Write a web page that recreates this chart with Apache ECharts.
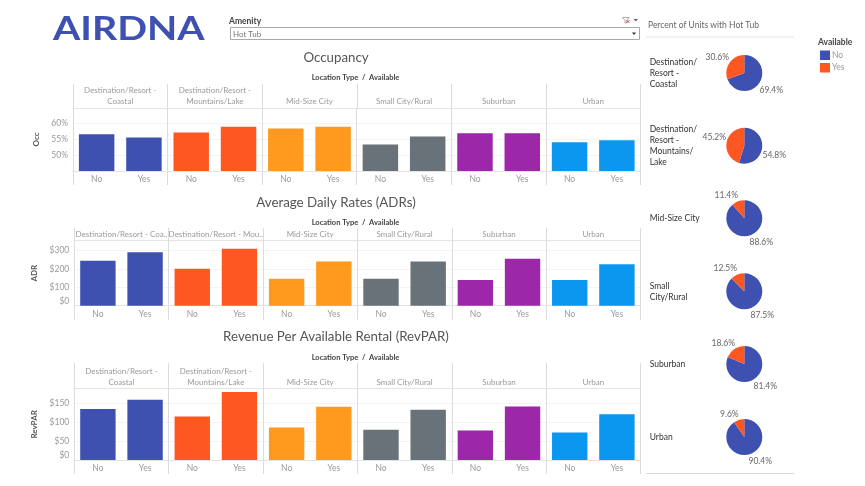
<!DOCTYPE html>
<html>
<head>
<meta charset="utf-8">
<title>AirDNA Hot Tub</title>
<script src="https://cdn.jsdelivr.net/npm/echarts@6/dist/echarts.min.js"></script>
<style>
html, body { margin: 0; padding: 0; background: #fff; }
#main { width: 865px; height: 486px; }
</style>
</head>
<body>
<div id="main"></div>
<script>
var availability = ['No', 'Yes'];
var headersTwoLine = ['Destination/Resort -\nCoastal', 'Destination/Resort -\nMountains/Lake', 'Mid-Size City', 'Small City/Rural', 'Suburban', 'Urban'];
var headersOneLine = ['Destination/Resort - Coa..', 'Destination/Resort - Mou..', 'Mid-Size City', 'Small City/Rural', 'Suburban', 'Urban'];
var pieNames = ['Destination/\nResort -\nCoastal', 'Destination/\nResort -\nMountains/\nLake', 'Mid-Size City', 'Small\nCity/Rural', 'Suburban', 'Urban'];

var occValues = [56.5, 55.5, 57, 58.8, 58.3, 58.8, 53.3, 55.8, 56.8, 56.8, 54, 54.6];
var adrValues = [244, 289, 200, 309, 146, 240, 146, 240, 139, 254, 139, 224];
var revparValues = [135, 160, 115, 180, 86, 141, 80, 133, 78, 142, 73, 121];

var pieNo = [69.4, 54.8, 88.6, 87.5, 81.4, 90.4];
var pieYes = [30.6, 45.2, 11.4, 12.5, 18.6, 9.6];

var panelColors = ['#3f51b0', '#ff5722', '#ff9a1f', '#687278', '#9c27a8', '#0b97ef'];
var pieColors = ['#3f51b0', '#ff5722'];

var gray = '#9a9a9a';
var sep = '#dcdcdc';
var font = 'Lato, "Noto Sans", sans-serif';

var myChart = echarts.init(document.getElementById('main'));

// one row of bars: 12 categories, separators come from the axes ticks
var rows = [
	{name: 'Occ', values: occValues, headers: headersTwoLine, left: 73, top: 108, base: 171, head: 24, min: 45, max: 64.7, interval: 5, fmt: '{value}%'},
	{name: 'ADR', values: adrValues, headers: headersOneLine, left: 74.3, top: 240.7, base: 305.7, head: 13, min: 0, max: 352, interval: 100, fmt: '${value}'},
	{name: 'RevPAR', values: revparValues, headers: headersTwoLine, left: 74.3, top: 388.7, base: 460, head: 25.5, min: 0, max: 189, interval: 50, fmt: '${value}'}
];

var grid = [], xAxis = [], yAxis = [], series = [];
var everyOther = function (i) { return i % 2 === 0; };

rows.forEach(function (r, n) {
	var cats = [];
	r.headers.forEach(function () { cats = cats.concat(availability); });
	grid.push({left: r.left, right: 865 - 640.5, top: r.top, height: r.base - r.top});
	xAxis.push({
		gridIndex: n, type: 'category', data: cats,
		axisLine: {lineStyle: {color: '#e4e4e4'}},
		axisTick: {show: true, interval: everyOther, length: 14, lineStyle: {color: sep}},
		axisLabel: {interval: 0, margin: 4, color: gray, fontFamily: font, fontSize: 8.5, hideOverlap: false},
		splitLine: {show: true, interval: everyOther, lineStyle: {color: sep}}
	});
	xAxis.push({
		gridIndex: n, type: 'category', position: 'top', data: r.headers,
		axisLine: {show: true, lineStyle: {color: '#e4e4e4'}},
		axisTick: {show: true, length: r.head, lineStyle: {color: sep}},
		axisLabel: {interval: 0, margin: 1, color: gray, fontFamily: font, fontSize: 8, lineHeight: 11, hideOverlap: false}
	});
	yAxis.push({
		gridIndex: n, type: 'value', min: r.min, max: r.max, interval: r.interval,
		name: r.name, nameLocation: 'middle', nameGap: 28,
		nameTextStyle: {color: '#555', fontFamily: font, fontSize: 8, fontWeight: 700},
		axisLine: {show: false}, axisTick: {show: false},
		axisLabel: {
			formatter: r.fmt, margin: 5, color: gray, fontFamily: font, fontSize: 8.5,
			showMaxLabel: false, showMinLabel: n > 0, verticalAlignMinLabel: 'bottom'
		},
		splitLine: {show: true, showMaxLine: false, showMinLine: false, lineStyle: {color: '#f4f4f4'}}
	});
	series.push({
		type: 'bar', xAxisIndex: n * 2, yAxisIndex: n, barWidth: '75%', silent: true,
		data: r.values.map(function (v, i) {
			return {value: v, itemStyle: {color: panelColors[Math.floor(i / 2)]}};
		})
	});
});

// label spots around each pie, relative to its centre
var pieY = [73, 145.7, 218.3, 291.3, 364, 437];
var pieX = 744.3;
var yesLabelAt = [[-27, -16], [-30, -8], [-18, -23], [-19, -23], [-21, -21], [-15, -23]];
var noLabelAt = [[27, 17], [30, 9.3], [17, 24.4], [18, 24], [21, 22], [16, 24]];

pieNo.forEach(function (v, i) {
	series.push({
		type: 'pie', center: [pieX, pieY[i]], radius: [0, 18], startAngle: 90, clockwise: true, silent: true,
		color: pieColors,
		label: {show: true, position: 'outside', formatter: function (p) { return p.value.toFixed(1) + '%'; }, color: '#666', fontFamily: font, fontSize: 8.5},
		labelLine: {show: false},
		labelLayout: function (p) {
			var at = p.dataIndex === 0 ? noLabelAt[i] : yesLabelAt[i];
			return {x: pieX + at[0], y: pieY[i] + at[1], align: 'center', verticalAlign: 'middle'};
		},
		data: [{name: availability[0], value: v}, {name: availability[1], value: pieYes[i]}]
	});
});

function text(x, y, s, size, color, weight, align) {
	return {
		type: 'text', z: 10, silent: true,
		style: {x: x, y: y, text: s, fill: color, font: (weight || 'normal') + ' ' + size + 'px ' + font, align: align || 'left', verticalAlign: 'middle', lineHeight: 11}
	};
}
function rule(x1, y1, x2, y2, color) {
	return {type: 'line', silent: true, shape: {x1: x1, y1: y1, x2: x2, y2: y2}, style: {stroke: color, lineWidth: 1}};
}

var graphics = [
	{type: 'text', silent: true, x: 53, y: 13, scaleX: 1.19, style: {x: 0, y: 0, text: 'AIRDNA', fill: '#3f51b0', font: '700 33px ' + font}},
	text(229, 21, 'Amenity', 8.5, '#444', '700'),
	{type: 'rect', silent: true, shape: {x: 230.5, y: 27.5, width: 409, height: 12}, style: {fill: '#fff', stroke: '#aaa', lineWidth: 1}},
	text(233, 34, 'Hot Tub', 8, '#777'),
	{type: 'polygon', silent: true, shape: {points: [[632, 32.5], [636, 32.5], [634, 35]]}, style: {fill: '#333'}},
	{type: 'polygon', silent: true, shape: {points: [[622.5, 17.5], [629, 17.5], [626.5, 20.5], [626.5, 23], [625, 23], [625, 20.5]]}, style: {fill: '#fff', stroke: '#999', lineWidth: 0.8}},
	rule(626.5, 20, 629.5, 23, '#d9534f'),
	rule(629.5, 20, 626.5, 23, '#d9534f'),
	{type: 'polygon', silent: true, shape: {points: [[633.5, 19], [638, 19], [635.75, 21.5]]}, style: {fill: '#666'}},
	text(336, 58, 'Occupancy', 13.3, '#555', 'normal', 'center'),
	text(336, 202.7, 'Average Daily Rates (ADRs)', 13.3, '#555', 'normal', 'center'),
	text(336, 337, 'Revenue Per Available Rental (RevPAR)', 13.3, '#555', 'normal', 'center'),
	text(355.5, 78, 'Location Type  /  Available', 7.5, '#444', '700', 'center'),
	text(355.5, 222.7, 'Location Type  /  Available', 7.5, '#444', '700', 'center'),
	text(355.5, 358, 'Location Type  /  Available', 7.5, '#444', '700', 'center'),
	text(648, 25.5, 'Percent of Units with Hot Tub', 8.5, '#666'),
	rule(646, 37, 794, 37, '#e4e4e4'),
	rule(646, 473.5, 794, 473.5, '#d8d8d8'),
	text(818, 42.5, 'Available', 8.5, '#444', '700')
];
pieNames.forEach(function (s, i) {
	graphics.push(text(649.7, pieY[i], s, 8.5, '#333', 'normal'));
});

var option = {
	backgroundColor: '#fff',
	animation: false,
	grid: grid,
	xAxis: xAxis,
	yAxis: yAxis,
	series: series,
	legend: {
		data: availability, orient: 'vertical', left: 820, top: 50.5, itemWidth: 10, itemHeight: 9.5, itemGap: 3,
		icon: 'rect', selectedMode: false, padding: 0,
		textStyle: {color: gray, fontFamily: font, fontSize: 8.5, padding: [0, 0, 0, -3]}, itemStyle: {borderWidth: 0}
	},
	graphic: {elements: graphics}
};

option && myChart.setOption(option);
</script>
</body>
</html>
